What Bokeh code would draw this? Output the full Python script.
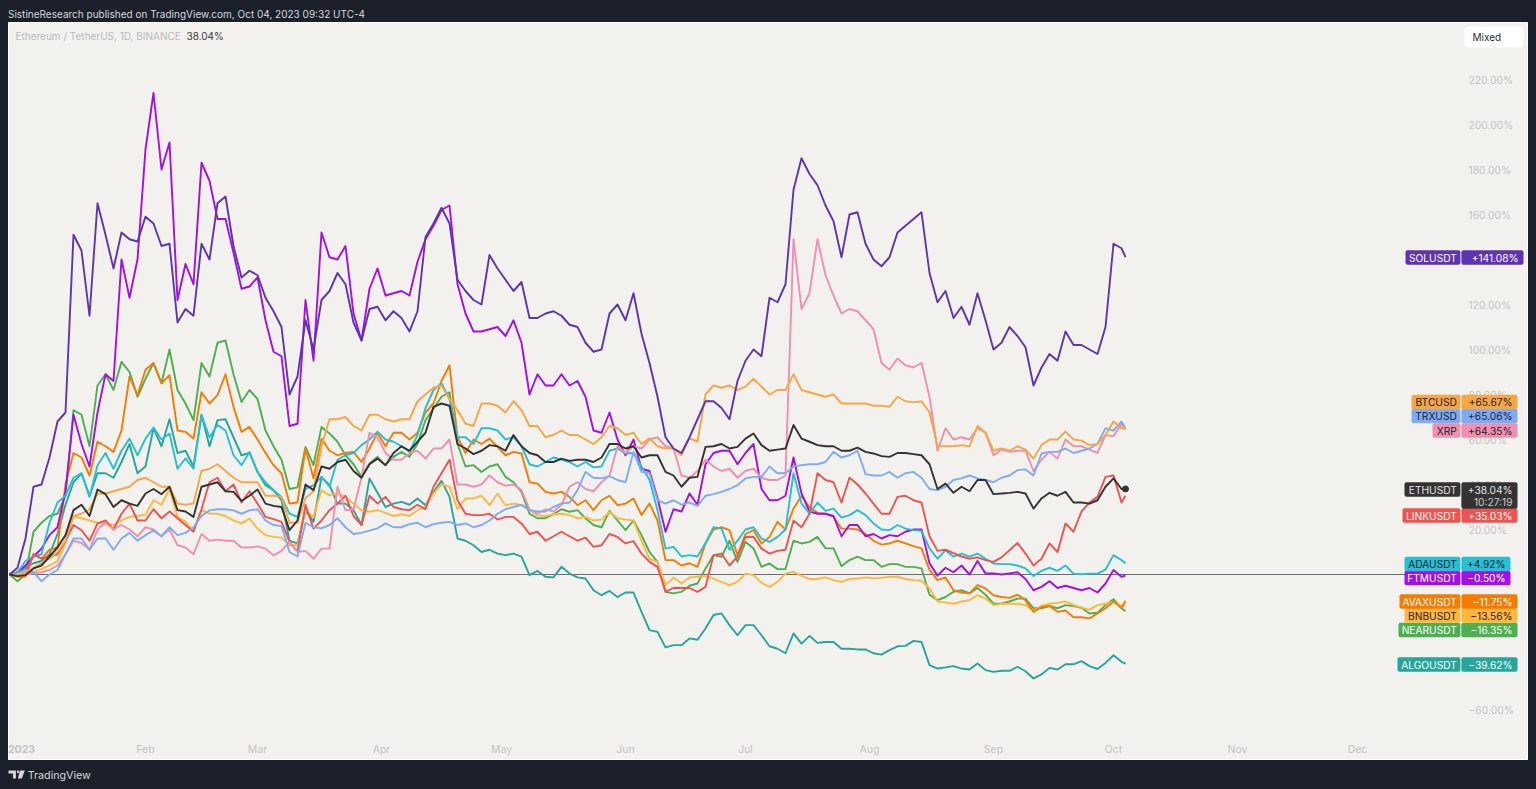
from bokeh.plotting import figure
from bokeh.embed import file_html
from bokeh.layouts import column
from bokeh.resources import INLINE
from bokeh.models import Range1d, LinearAxis, FixedTicker
from bokeh.core.properties import value

# ---- data: percent change, one value every second day, then the last close
SOL = [0,3,16,39,40,52,68,72,151,144,115,165,151,136,152,149,148,159,156,146,
 147,112,118,115,147,140,165,168,146,132,135,133,123,117,110,80,88,113,100,122,
 126,134,129,112,104,118,119,113,117,114,108,117,150,156,163,156,131,126,122,120,
 142,136,131,126,130,114,114,116,117,115,111,110,103,99,100,116,120,113,125,107,
 94,79,61,56,54,61,69,77,77,74,69,86,95,100,97,123,121,129,171,185,
 178,173,164,157,141,160,161,147,140,137,141,152,155,158,161,134,121,126,114,119,
 111,125,113,100,103,110,106,101,84,92,98,95,108,102,102,100,98,110,147,145, 141.08]
FTM = [0,1,4,8,11.5,17.5,21,37,71,58,48,72,89,86,140,123,140,189,214,180,
 192,122,138,129,183,175,158,158,143,127,128,132,113,99,97,66,67,122,95,152,
 141,140,146,116,104,127,136,124,125,126,124,139,149,155,162,164,129,116,108,108,
 109,110,106,113,103,80,89,84,84,89,84,86,79,64,63,72,60,53,60,47,
 46,34,19,29,28,36,31,49,54,55,55,49,54,58,38,33,33,35,52,36,
 28,27,27,26,17,22,22,17,18,16,17.5,17,19,20,20,5,-0.5,3,1,4,
 0,6,0.5,0.5,0,0.5,1,-2,-7,-5.5,-3,-6,-5,-6,-7,-6,-8,-4,2,-1, -0.5]
XRP = [0,0,0,0.5,1,2,4,9,15,14,11,20,23,20,22,20,17,21,20,17,
 20,13,12,9,18,15,15.5,15,15,12,12,12.5,11.5,8.5,10.5,14.5,10,10.5,7,11.5,
 11.5,39,28.5,29,43,63,61,54,51,51,54,55,51.5,56,56,60,40,40,39,40,
 44,41,39.5,40,37.5,29,27,29,28,31,39,41,38,37,41,44,57,54,57,56,
 60,61,57,56,44,43,46,51,48,46,47,43,46,47,43,42,42,44,149,118,
 125,149,133,124,116,118,117,113,109,94,91,96,93,92,94,79,55,65,60,61,
 60,65,63,53,55.5,54.5,55,55,46,51,54.5,51.5,60,57,57,55.5,54,62,61.5,67, 64.35]
BTC = [0,0,1,3,5,7,10,15,26,27,29,36,36,37,38,39,42,43,41,39,
 39,31.5,31,31.5,46,47,49,46,43,41,41,41,35,35,34.5,23,23,34,37,57,
 69,69,70,66,64,71,71,69,68,69,69,77,80,83,84,78,73,67,66,76,
 76,75,72,77,73,66,66,61,62,64,62,62,60,58,61,66,65,62,63,58,
 60.5,57,56,56,53,60.5,59,80,84,83,84,82,83.5,87,83.5,80,82,82,89,82,
 81,80,79,80,76,76,76,76,75,75,74.5,79,77,76.5,77,72,57,57,57,57.5,
 57,66,63,55,56,55,57,55.5,51.5,57.5,60,60,63.5,60,59.5,57.5,58,62,68,65, 65.67]
TRX = [0,0.5,2,1,-3,0,2,9,16,16,11,16,16,11,16,18.5,15,17.5,19.5,17,
 21,17.5,18.5,21,26,28.5,29,29,28.5,27,28.5,29,24,22,21.5,10,8,23,21,20.5,
 22,25,21,18,18.5,19.5,20.5,22.7,21,21,22.4,23,21,22.4,23,23.4,22,22.7,21,22,
 24,27,29,30,31,28.6,28,28,30,31.5,32,37.5,45.6,43,42.7,43.7,42,41,54.5,45.6,
 45,33,31.5,33,31,32,30.5,35,35.7,36.7,38,39.7,42.7,43.4,43.4,48,45,45,48,48.6,
 49,49,50,54.5,52,53,55,44.6,44,44,45.6,43,45,45.6,43,38,37.5,39,42,42.7,
 44,42.7,42,41,43,44,46.4,46.7,44,53.8,54.5,54.5,56,54,55,56,58,65,64,68, 65.06]
LINK = [0,-0.5,0,9,7,8,9,15,22,19.7,15,22.7,24,20,27,31.5,24,24,29,25,
 28,25,22,19,29,41,43,37,40,32,37,31.5,25.6,24.6,23.4,14.5,10,31,20.4,24,
 28.6,31.5,35,26,22,35,31.5,34.5,30,29,28.6,31,29,39,45,51,33,27,26.4,26.4,
 27,24.4,25.6,25.6,22.7,18,19,15,17,19,17,15,16.4,12.3,13,18,16.7,13.8,14.8,9.3,
 5.6,3.4,-7.7,-6,-6,-6,-7.7,-5.5,8.6,9.3,4,8,16.7,16.7,11.5,9.3,10.5,11,24,21,
 27,45,42,41,32,43,40,36,31.5,27,27,34.5,35,33,32,17,10.5,11,9.5,8,
 7,7.6,6.4,5.6,7.6,10.8,14,9.3,4,7,13.8,10,22.7,19,28,32,34.5,43.4,44,32, 35.03]
ADA = [0,1,6,8,9,23,32,35,43,45,34.5,48.6,54,47,55,60.4,53,60.4,65.3,60,
 62.7,47,51.6,47,70.8,61,66.4,64,53,48.6,54.5,45.6,41,37.5,34.5,27,25.6,38,39.7,43.4,
 39,51,53,54,57.5,60,63.5,60,59,57,54.5,62,74,82,85,78,61,61,58,65,
 65,64,60,61,57,49,48,50,52,51,50,48,50,47.6,48,55,56,53.8,54,48,
 42,28.6,11.5,12.3,8,8.6,8,14,21,20.4,11,15,20,21,16,14.5,16.7,20,45,31.6,
 27,32,28.3,29.3,25.3,26.4,28.6,26.4,22.7,20,19.7,22,20.4,19.7,19.4,11.6,7,10.8,7.9,9.3,
 7.9,9.3,7,4.9,4.6,4.6,4,2.7,-0.7,1.6,3,1.6,4,0.4,0.1,0.4,0.4,2.2,8.6,6.4, 4.92]
ALGO = [0,1,3,5,6,9,18,31,41,45,35,45,45,43,50,58,45,48,65,57,
 69,54,55,48,71,57,68.6,69,61,53,54,45.6,39.7,37.5,33,15,13.8,28.6,23.4,43.4,
 39.7,31.5,31.5,28.6,22,42.7,36.3,30,31.5,32.3,31,33.8,30.8,36.7,41.6,34.5,16,15,13,10,
 11,9.3,8.6,9.3,7.9,-0.3,1.6,-1,-1.3,3.4,0.4,-1.3,-1.8,-7,-9.2,-7.3,-10,-8,-8,-16.6,
 -24.7,-25.5,-32.4,-31.4,-31.4,-28.4,-29,-24,-18,-17.3,-22.5,-27,-22.5,-22.5,-27,-31.9,-33,-35,-26.2,-30.7,
 -27.3,-30.4,-30,-30,-33,-33,-33.3,-33.3,-35,-35.6,-33.6,-31.9,-31.7,-29.5,-30,-40.3,-41.8,-41.3,-40.7,-41.8,
 -42.2,-39.6,-42.5,-43.3,-42.8,-42.8,-41,-43,-46.2,-44.4,-41.5,-42.2,-39.9,-39.9,-38.5,-40.7,-42,-39.3,-35.9,-38.8, -39.62]
AVAX = [0,-1,-1,9,7,11,12,40,54,52,44,59,57,54.5,64,88,79.7,91,94,85,
 88.6,64,63.4,60.4,81,76,79.7,89,74.5,63.4,65.6,60,54,48.6,45,31.5,32,56,42.7,60.4,
 55,53,54,54.5,50,56,63,57,63,63,60,63,72,76,86,93,61,54,60,58,
 60.4,56.7,53,54.5,53.8,41,40.4,36.7,36,36.7,34.5,30.8,33,28.6,33,35,30.8,31.5,33.8,26.4,
 31.5,24,6.4,6.4,4,5,3.4,13.8,20,21,19.7,8.6,18,19.7,13.8,16.7,23.4,20,29.3,34.8,
 30,27.4,27,25.6,20.4,20.4,20,18,15,13.3,13.8,15,13.8,12.6,11.6,2,-2.5,-1.3,-7,-8,
 -8.4,-4.7,-6.2,-9.2,-10,-10.4,-9,-11.4,-16.6,-14.4,-14,-16.6,-16,-19,-19,-19.5,-17.3,-15,-12,-14.8, -11.75]
NEAR = [0,-3,0,19,23,26,27,35,73,71,57,84,89,82,94.5,90,79,87,94,85,
 100,82,76,68.6,94,88,103,104,89,76.7,82,78,64,57,51,38,38.7,56.7,48.6,65.6,
 62.7,59,53,49,43.4,49.3,52.3,48.6,52.3,54.5,52.3,58,68.6,73.8,79,81,58,48,48.6,45.6,
 48,49,43.4,41,36.7,27,25,25,26.8,29,27.9,28.6,25,22,21,28.3,24,19.7,24,17.5,
 10,5.6,-7.7,-8.4,-7.7,-5,-4,2.7,8.6,7.9,15,5.6,14.5,11.6,3.4,4.9,2.4,2.4,15,13.8,
 14.5,16.7,11.6,11.6,3.7,6.4,7.9,6.4,6.4,3.4,4.6,4.6,3.4,3.4,2.7,-9,-11.4,-10,-7.7,-7,
 -8.4,-6,-9,-13,-12.9,-12,-10.7,-10.7,-15,-15,-14,-15,-13.6,-14,-14.8,-17.3,-17,-13.6,-11,-15, -16.35]
BNB = [0,-0.3,0,1,2.5,4,6,14,26,25,24,23,22.7,22,24,25.6,26,26.6,33,31,
 38,25.6,23.4,19.4,28.6,27,27,26,24,22.7,24.9,20.4,17.5,16.7,16.4,13,13,28.6,25.6,37.5,
 35.3,36,34.5,31.5,28.6,27.9,28.6,27.4,26,26.8,26,28.6,30,36,40,39,29,33.8,33.8,35,
 30.8,36,30.8,31.5,30.8,28.6,26.4,26,26.8,27,26.4,25,25.6,24,24.4,27.9,25,24.4,24,15,
 7,5.6,-4.7,-1.3,-4,-1.3,-1,-0.7,-1.8,-3.3,-4.7,-3.3,0.4,-0.3,-3.7,-5.5,-3.3,0.4,1.2,-0.6,
 -2,-2,-1.3,-2.5,-3.3,-2,-1.8,-1.3,-1.8,-1.5,-1,-1,-2,-2.5,-2.8,-6.2,-12,-12.4,-13,-12,
 -11.4,-9.2,-10.7,-13.6,-13,-13,-13,-13.6,-15.9,-14,-13,-12.6,-12,-13.6,-14.7,-15.6,-13.6,-13,-12,-14, -13.56]
ETH = [0,-0.7,-0.3,2.7,4,8,12,17.5,28.6,31,26,37.8,35.7,30,33,31.5,30.5,36,38,35.7,
 39,28.6,28,25.6,39,40,41,37,36.7,32.7,35,37.8,31.5,30.5,30,19.7,24,40,37.5,48,
 47,50,51,46,43,49,51.5,48.6,54,57,55,59,63,74.5,76,75,58,56,53.5,55,
 57.5,57,55,62,57,54,53,50,50,51.5,50.5,51,51,50,52,58,58,56,57,52,
 53,53,45.6,44,39,43,43.4,56.7,57,58,56,56.7,60.4,62.7,57.5,55,55.5,56,66.4,60.4,
 59,57.5,57,57,55,55,56.4,54.5,53.8,52.6,52.3,54,54,53.5,53,49,38,40.4,36.3,39,
 37,42,42,35.7,36,36.3,36.7,36,29.3,33.8,36.3,35,36.7,32,32,31.5,33,39,42.7,38, 38.04]

DAYS = [-3 + 2 * i for i in range(140)] + [276]   # days since 1 Jan 2023

NAMES = ["ALGOUSDT", "NEARUSDT", "BNBUSDT", "AVAXUSDT", "FTMUSDT", "ADAUSDT", "LINKUSDT",
         "XRP", "TRXUSD", "BTCUSD", "SOLUSDT", "ETHUSDT"]
SERIES = [ALGO, NEAR, BNB, AVAX, FTM, ADA, LINK, XRP, TRX, BTC, SOL, ETH]
VALUE_TEXT = ["\u221239.62%", "\u221216.35%", "\u221213.56%", "\u221211.75%", "\u22120.50%", "+4.92%",
              "+35.03%", "+64.35%", "+65.06%", "+65.67%", "+141.08%", "+38.04%"]

MONTH_TICKS = [31, 59, 90, 120, 151, 181, 212, 243, 273, 304, 334]
MONTH_LABELS = ["Feb", "Mar", "Apr", "May", "Jun", "Jul", "Aug", "Sep", "Oct", "Nov", "Dec"]
YEAR_LABEL = "2023"
PCT_TICKS = [-60, -40, -20, 0, 20, 40, 60, 80, 100, 120, 140, 160, 180, 200, 220]
PCT_LABELS = ["\u221260.00%", "\u221240.00%", "\u221220.00%", "0.00%", "20.00%", "40.00%", "60.00%", "80.00%",
              "100.00%", "120.00%", "140.00%", "160.00%", "180.00%", "200.00%", "220.00%"]

# ---- styles and layout (page pixels)
COLORS = ["#26a69a", "#4caf50", "#ffb83d", "#f57c00", "#a30fe6", "#26bfd4", "#ef5350",
          "#f08fb0", "#7fabf5", "#f7a644", "#5e35b1", "#333333"]
TEXT_COLORS = ["#ffffff", "#ffffff", "#1e222d", "#ffffff", "#ffffff", "#1e222d", "#ffffff",
               "#1e222d", "#1e222d", "#1e222d", "#ffffff", "#e4e4e4"]
LABEL_LEFT = [1397, 1398, 1404, 1399, 1404, 1404, 1402, 1432, 1411, 1411, 1405, 1404]
LABEL_RIGHT = [1517, 1517, 1517, 1517, 1510, 1510, 1517, 1517, 1517, 1517, 1523, 1517]
LABEL_CY = [664, 629.5, 615, 601, 577.5, 563.5, 515, 430, 415.5, 401.5, 257, 489]
DIVIDER = 1460.3
BG = "#f3f1ee"
DARK = "#1c202b"
AXIS_TEXT = "#c3c3c3"
LIGHT_TEXT = "#d6d8de"
FONT = "Inter"
W, H = 1536, 789
LEFT, RIGHT, TOP, BOTTOM = 8, 1527, 22, 760
BASELINE_END = 1440
STRIP_SHIFT = 8.5


def px_x(px):
    return (px - 21) / 4.0


def px_y(py):
    return (574.0 - py) / 2.25


for s in SERIES:
    assert len(s) == len(DAYS), len(s)

p = figure(width=W, height=BOTTOM - TOP, output_backend="svg", toolbar_location=None,
           x_axis_location=None, y_axis_location=None,
           x_range=Range1d(px_x(LEFT), px_x(RIGHT)), y_range=Range1d(px_y(BOTTOM), px_y(TOP)),
           background_fill_color=BG, border_fill_color=DARK,
           min_border_left=LEFT, min_border_right=W - RIGHT, min_border_top=0, min_border_bottom=0)
p.outline_line_color = "#ffffff"
p.xgrid.visible = False
p.ygrid.visible = False

yax = LinearAxis(ticker=FixedTicker(ticks=PCT_TICKS), fixed_location=px_x(1468), level="underlay",
                 major_label_overrides=dict(zip(PCT_TICKS, PCT_LABELS)),
                 major_tick_line_color=None, minor_tick_line_color=None, axis_line_color=None,
                 major_tick_in=0, major_tick_out=0, minor_tick_in=0, minor_tick_out=0,
                 major_label_standoff=0, major_label_text_color=AXIS_TEXT,
                 major_label_text_font=FONT, major_label_text_font_size="10.3px")
p.add_layout(yax, "right")
xax = LinearAxis(ticker=FixedTicker(ticks=MONTH_TICKS), fixed_location=px_y(742), level="underlay",
                 major_label_overrides=dict(zip(MONTH_TICKS, MONTH_LABELS)),
                 major_tick_line_color=None, minor_tick_line_color=None, axis_line_color=None,
                 major_tick_in=0, major_tick_out=0, minor_tick_in=0, minor_tick_out=0,
                 major_label_standoff=0, major_label_text_color=AXIS_TEXT,
                 major_label_text_font=FONT, major_label_text_font_size="10.5px")
p.add_layout(xax, "below")
p.text([0], [px_y(748)], text=[YEAR_LABEL], text_align="center", text_baseline="middle",
       text_color=AXIS_TEXT, text_font=value(FONT), text_font_size="10.5px", text_font_style="bold")

# zero baseline, which stops under the price-scale labels
p.line([px_x(LEFT), px_x(BASELINE_END)], [0, 0], line_color="#6a6d78", line_width=1)

for s, c in zip(SERIES, COLORS):
    p.line(DAYS, s, line_color=c, line_width=1.9, line_join="round")
p.scatter([DAYS[-1]], [ETH[-1]], size=6, color=COLORS[-1])

# price-scale labels
for name, txt, c, tc, l, r, cy in zip(NAMES, VALUE_TEXT, COLORS, TEXT_COLORS, LABEL_LEFT, LABEL_RIGHT, LABEL_CY):
    is_main = name == "ETHUSDT"
    hh = 7.2
    p.quad(left=px_x(l), right=px_x(DIVIDER - 0.4), top=px_y(cy - hh), bottom=px_y(cy + hh),
           fill_color=c, line_color=None, border_radius=2)
    p.quad(left=px_x(DIVIDER + 0.6), right=px_x(r), top=px_y(cy - hh),
           bottom=px_y(cy + hh + (12 if is_main else 0)), fill_color=c, line_color=None, border_radius=2)
    p.text([px_x(DIVIDER - 4)], [px_y(cy)], text=[name], text_align="right", text_baseline="middle",
           text_color=tc, text_font=value(FONT), text_font_size="10.2px")
    p.text([px_x(r - 5)], [px_y(cy)], text=[txt], text_align="right", text_baseline="middle",
           text_color=tc, text_font=value(FONT), text_font_size="10.2px")
    if is_main:
        p.text([px_x(r - 5)], [px_y(cy + 12)], text=["10:27:19"], text_align="right", text_baseline="middle",
               text_color="#c9c9c9", text_font=value(FONT), text_font_size="10.2px")

# header inside the chart
p.text([px_x(15)], [px_y(35)], text=["Ethereum / TetherUS, 1D, BINANCE"], text_baseline="middle",
       text_color="#b9babd", text_font=value(FONT), text_font_size="10px")
p.text([px_x(186)], [px_y(35)], text=["38.04%"], text_baseline="middle",
       text_color="#3a3a3a", text_font=value(FONT), text_font_size="10px")
p.quad(left=px_x(1464), right=px_x(1523), top=px_y(26), bottom=px_y(47), fill_color="#ffffff",
       line_color=None, border_radius=4)
p.text([px_x(1472)], [px_y(36.5)], text=["Mixed"], text_baseline="middle",
       text_color="#2a2e39", text_font=value(FONT), text_font_size="10px")


def strip(y_top, y_bottom):
    f = figure(width=W, height=y_bottom - y_top, output_backend="svg", toolbar_location=None,
               x_axis_location=None, y_axis_location=None,
               x_range=Range1d(STRIP_SHIFT, W + STRIP_SHIFT), y_range=Range1d(y_bottom, y_top),
               background_fill_color=DARK, border_fill_color=DARK,
               min_border_left=0, min_border_right=0, min_border_top=0, min_border_bottom=0)
    f.outline_line_color = None
    f.xgrid.visible = False
    f.ygrid.visible = False
    return f


top = strip(0, TOP)
top.text([8], [13], text=["SistineResearch published on TradingView.com, Oct 04, 2023 09:32 UTC-4"],
         text_baseline="middle", text_color=LIGHT_TEXT, text_font=value(FONT), text_font_size="10px")

foot = strip(BOTTOM, H)
foot.text([28], [774.5], text=["TradingView"], text_baseline="middle", text_color=LIGHT_TEXT,
          text_font=value(FONT), text_font_size="10.7px")
# logo mark
foot.patch([8, 16, 16, 13, 13, 8], [770, 770, 778, 778, 773, 773], fill_color=LIGHT_TEXT, line_color=None)
foot.patch([17, 19, 19, 17], [770, 770, 772.5, 772.5], fill_color=LIGHT_TEXT, line_color=None)
foot.patch([20, 25, 22, 18], [770, 770, 778, 778], fill_color=LIGHT_TEXT, line_color=None)

page = column(top, p, foot, spacing=0)
html = file_html(page, INLINE)
html = html.replace("<head>", "<head><style>html,body{background:#1c202b}</style>", 1)
open("out.html", "w").write(html)
